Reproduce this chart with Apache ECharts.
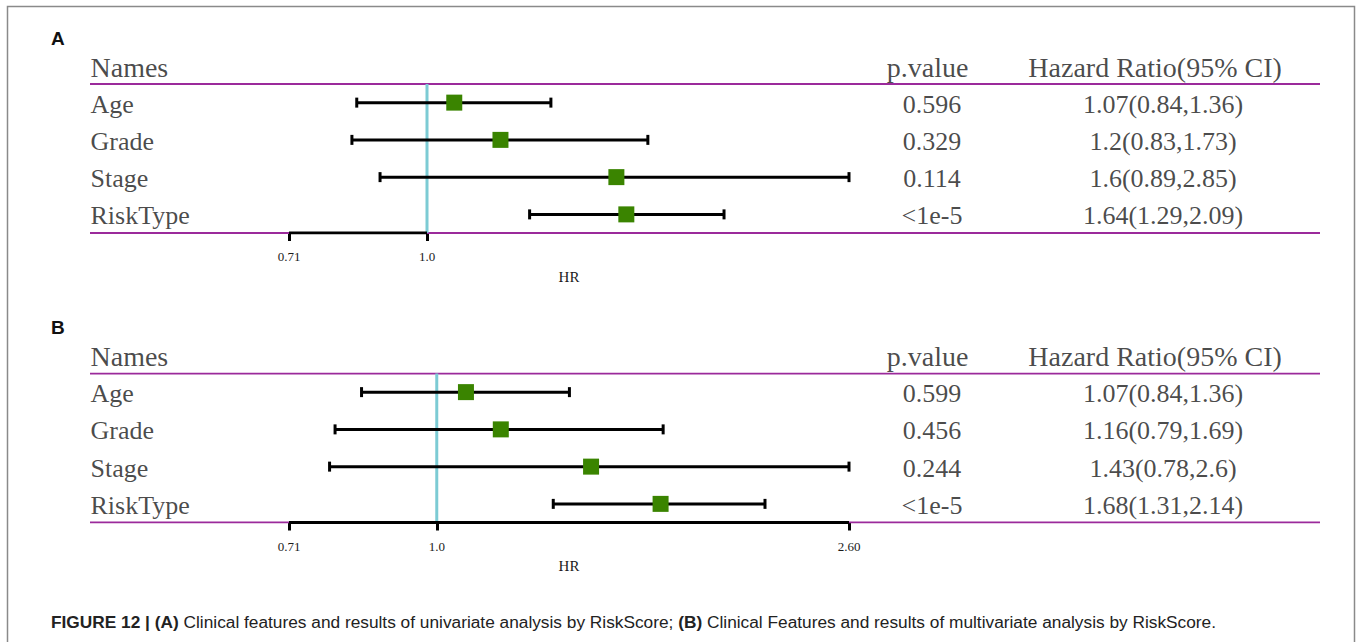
<!DOCTYPE html>
<html><head><meta charset="utf-8">
<script src="https://cdn.jsdelivr.net/npm/echarts@6/dist/echarts.min.js"></script>
<style>html,body{margin:0;padding:0;background:#fff}#c{width:1357px;height:642px}</style>
</head><body><div id="c"></div>
<script>
// ---------- data ----------
const names = ['Age', 'Grade', 'Stage', 'RiskType'];
const headers = ['Names', 'p.value', 'Hazard Ratio(95% CI)'];

const hrA = [1.07, 1.2, 1.6, 1.64];
const loA = [0.84, 0.83, 0.89, 1.29];
const hiA = [1.36, 1.73, 2.85, 2.09];
const pA = ['0.596', '0.329', '0.114', '<1e-5'];

const hrB = [1.07, 1.16, 1.43, 1.68];
const loB = [0.84, 0.79, 0.78, 1.31];
const hiB = [1.36, 1.69, 2.6, 2.14];
const pB = ['0.599', '0.456', '0.244', '<1e-5'];

const ticksA = [0.71, 1.0];
const tickLabelsA = ['0.71', '1.0'];
const ticksB = [0.71, 1.0, 2.6];
const tickLabelsB = ['0.71', '1.0', '2.60'];
const axisMinA = 0.71, axisMaxA = 2.85;
const axisMinB = 0.71, axisMaxB = 2.6;
const refValue = 1.0;
const caption = ['FIGURE 12 |', '(A)', ' Clinical features and results of univariate analysis by RiskScore; ', '(B)', ' Clinical Features and results of multivariate analysis by RiskScore.'];

// ---------- style constants ----------
const SERIF = 'Liberation Serif, Times New Roman, serif';
const SANS = 'Liberation Sans, Arial, sans-serif';
const PURPLE = '#9b2a9b';
const CYAN = '#7ccbd4';
const GREEN = '#3a8400';
const TXT = '#1a1a1a';
const ROW_MIN = 0.5, ROW_MAX = 4.5, HEADER_ROW = 0.05;
const COL_P_HEAD = 0.681, COL_P = 0.6846, COL_HR_HEAD = 0.8659, COL_HR = 0.8724;

const panels = [
  {top: 84, hr: hrA, lo: loA, hi: hiA, p: pA, ticks: ticksA, tl: tickLabelsA, min: axisMinA, max: axisMaxA},
  {top: 373.5, hr: hrB, lo: loB, hi: hiB, p: pB, ticks: ticksB, tl: tickLabelsB, min: axisMinB, max: axisMaxB}
];

const grid = [], xAxis = [], yAxis = [], series = [];
const GH = 149;

panels.forEach((P, k) => {
  const gT = 2 * k, gF = 2 * k + 1;
  grid.push({left: 90, right: 37, top: P.top, height: GH});
  grid.push({left: 289, right: 508, top: P.top, height: GH});
  xAxis.push({gridIndex: gT, type: 'value', min: 0, max: 1, show: false});
  xAxis.push({
    gridIndex: gF, type: 'log', logBase: 10, min: P.min, max: P.max,
    axisLine: {show: false}, splitLine: {show: false},
    axisTick: {show: true, customValues: P.ticks, length: 8, lineStyle: {color: '#000', width: 3}},
    axisLabel: {
      customValues: P.ticks, margin: 17, fontFamily: SERIF, fontSize: 13, color: TXT,
      formatter: v => {
        let bi = 0;
        P.ticks.forEach((t, i) => { if (Math.abs(t - v) < Math.abs(P.ticks[bi] - v)) bi = i; });
        return P.tl[bi];
      }
    },
    name: 'HR', nameLocation: 'middle', nameGap: 36,
    nameTextStyle: {fontFamily: SERIF, fontSize: 15, color: TXT}
  });
  yAxis.push({gridIndex: gT, type: 'value', inverse: true, min: ROW_MIN, max: ROW_MAX, show: false});
  yAxis.push({gridIndex: gF, type: 'value', inverse: true, min: ROW_MIN, max: ROW_MAX, show: false});

  // purple rules
  [ROW_MIN, ROW_MAX].forEach(yv => {
    series.push({type: 'line', xAxisIndex: gT, yAxisIndex: gT, symbol: 'none', silent: true, z: 1,
      lineStyle: {color: PURPLE, width: 2}, data: [[0, yv], [1, yv]]});
  });

  // headers
  series.push({
    type: 'scatter', xAxisIndex: gT, yAxisIndex: gT, clip: false, symbolSize: 1, silent: true,
    itemStyle: {color: 'transparent'},
    data: [
      {value: [0, HEADER_ROW, headers[0]], label: {position: 'right', distance: 0}},
      {value: [COL_P_HEAD, HEADER_ROW, headers[1]], label: {position: 'inside'}},
      {value: [COL_HR_HEAD, HEADER_ROW, headers[2]], label: {position: 'inside'}}
    ],
    label: {show: true, formatter: q => q.value[2], fontFamily: SERIF, fontSize: 28, color: TXT}
  });
  // row texts
  const rowData = [];
  names.forEach((n, i) => {
    rowData.push({value: [0, i + 1, n], label: {position: 'right', distance: 0}});
    rowData.push({value: [COL_P, i + 1, P.p[i]], label: {position: 'inside'}});
    rowData.push({value: [COL_HR, i + 1, `${P.hr[i]}(${P.lo[i]},${P.hi[i]})`], label: {position: 'inside'}});
  });
  series.push({
    type: 'scatter', xAxisIndex: gT, yAxisIndex: gT, clip: false, symbolSize: 1, silent: true,
    itemStyle: {color: 'transparent'}, data: rowData,
    label: {show: true, formatter: q => q.value[2], fontFamily: SERIF, fontSize: 26, color: TXT, offset: [0, 1.5]}
  });

  // reference line
  series.push({type: 'line', xAxisIndex: gF, yAxisIndex: gF, symbol: 'none', silent: true, z: 2,
    lineStyle: {color: CYAN, width: 3}, data: [[refValue, ROW_MIN], [refValue, ROW_MAX]]});
  // axis segment spanning the ticks
  series.push({type: 'line', xAxisIndex: gF, yAxisIndex: gF, symbol: 'none', silent: true, z: 3,
    lineStyle: {color: '#000', width: 3}, data: [[P.ticks[0], ROW_MAX], [P.ticks[P.ticks.length - 1], ROW_MAX]]});

  // CI bars
  series.push({
    type: 'custom', xAxisIndex: gF, yAxisIndex: gF, z: 4, silent: true, clip: false,
    encode: {x: [0, 2], y: 1},
    data: names.map((n, i) => [P.lo[i], i + 1, P.hi[i]]),
    renderItem: (params, api) => {
      const a = api.coord([api.value(0), api.value(1)]);
      const b = api.coord([api.value(2), api.value(1)]);
      const st = {stroke: '#000', lineWidth: 3};
      return {type: 'group', children: [
        {type: 'line', shape: {x1: a[0], y1: a[1], x2: b[0], y2: b[1]}, style: st},
        {type: 'line', shape: {x1: a[0], y1: a[1] - 5, x2: a[0], y2: a[1] + 5}, style: st},
        {type: 'line', shape: {x1: b[0], y1: b[1] - 5, x2: b[0], y2: b[1] + 5}, style: st}
      ]};
    }
  });
  // HR squares
  series.push({
    type: 'scatter', xAxisIndex: gF, yAxisIndex: gF, z: 5, silent: true,
    symbol: 'rect', symbolSize: 16, itemStyle: {color: GREEN, opacity: 1},
    data: names.map((n, i) => [P.hr[i], i + 1])
  });
});

const chart = echarts.init(document.getElementById('c'), null, {renderer: 'svg'});
chart.setOption({
  animation: false,
  backgroundColor: '#fff',
  title: [
    {text: 'A', left: 46, top: 24, textStyle: {fontFamily: SANS, fontWeight: 'bold', fontSize: 19, color: '#111'}},
    {text: 'B', left: 46, top: 313, textStyle: {fontFamily: SANS, fontWeight: 'bold', fontSize: 19, color: '#111'}},
    {
      text: `{b|${caption[0]} ${caption[1]}}{n|${caption[2]}}{b|${caption[3]}}{n|${caption[4]}}`,
      left: 46, top: 608,
      textStyle: {
        fontWeight: 'normal',
        rich: {
          b: {fontFamily: SANS, fontWeight: 'bold', fontSize: 17.3, color: '#222'},
          n: {fontFamily: SANS, fontWeight: 'normal', fontSize: 17.3, color: '#222'}
        }
      }
    }
  ],
  graphic: [{
    type: 'rect', silent: true, z: -1,
    shape: {x: 7.5, y: 6.5, width: 1347, height: 700},
    style: {fill: 'none', stroke: '#8a8a8a', lineWidth: 1.5}
  }],
  grid, xAxis, yAxis, series
});
</script>
</body></html>
